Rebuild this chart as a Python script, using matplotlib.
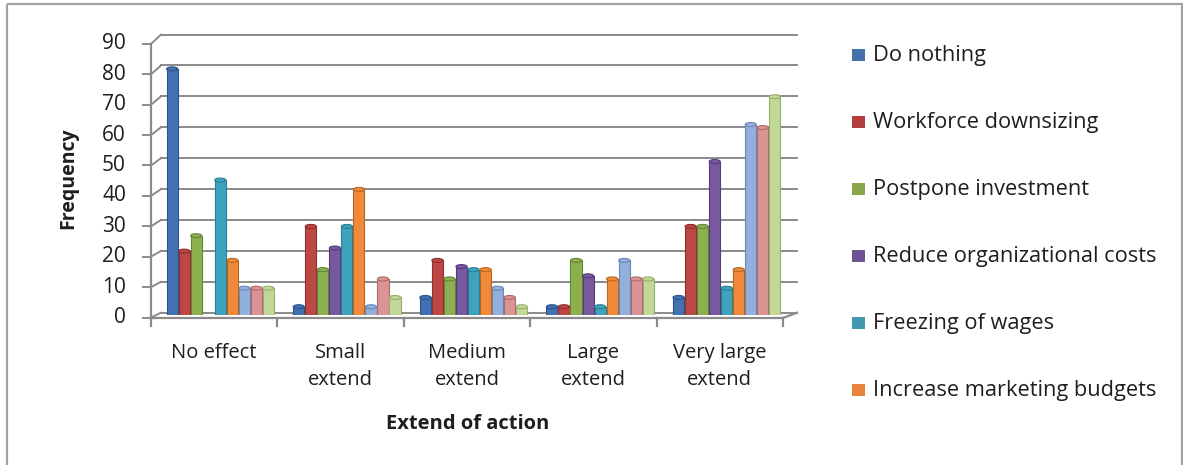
import matplotlib.pyplot as plt
from matplotlib.patches import Ellipse, Rectangle
import numpy as np

plt.rcParams['font.family'] = ['Open Sans', 'DejaVu Sans']

categories = ["No effect", "Small\nextend", "Medium\nextend", "Large\nextend", "Very large\nextend"]

do_nothing = [80, 3, 6, 3, 6]
workforce_downsizing = [21, 29, 18, 3, 29]
postpone_investment = [26, 15, 12, 18, 29]
reduce_org_costs = [0, 22, 16, 13, 50]
freezing_wages = [44, 29, 15, 3, 9]
increase_marketing = [18, 41, 15, 12, 15]
other_a = [9, 3, 9, 18, 62]
other_b = [9, 12, 6, 12, 61]
other_c = [9, 6, 3, 12, 71]

series = [do_nothing, workforce_downsizing, postpone_investment, reduce_org_costs,
          freezing_wages, increase_marketing, other_a, other_b, other_c]
legend_names = ["Do nothing", "Workforce downsizing", "Postpone investment",
                "Reduce organizational costs", "Freezing of wages",
                "Increase marketing budgets"]

face = ["#4272b2", "#bd4745", "#8db04f", "#78599f", "#40a3bd", "#f08a3a",
        "#93afdc", "#da9493", "#c2d899"]
edge = ["#2c5489", "#8e2f2d", "#66843a", "#543c78", "#2b7d92", "#b9651f",
        "#6a87b8", "#b06a69", "#97ad6e"]
legend_face = ["#4472a8", "#b3403e", "#89a64b", "#6f5495", "#4198af", "#e8833c"]

yticks = np.arange(0, 100, 10)

W, H = 1183, 465
fig = plt.figure(figsize=(W / 100, H / 100), dpi=100)

# overlay in pixel coordinates for the frame, walls and labels
frame = fig.add_axes([0, 0, 1, 1])
frame.set_xlim(0, W)
frame.set_ylim(H, 0)
frame.axis("off")


def px(x0, y0, x1, y1):
    return [x0 / W, 1 - y1 / H, (x1 - x0) / W, (y1 - y0) / H]


# bars axes: value 0 at y=315, value 90 at y=37
ax = fig.add_axes(px(157, 37, 790, 315))
ax.set_xlim(-0.5, 4.5)
ax.set_ylim(0, 90)
ax.axis("off")
ax.patch.set_alpha(0)

grid_c = "#8a8a8a"
text_c = "#1e1e1e"


def y_back(v):
    return 312.7 - v * 3.09


def y_front(v):
    return 317.5 - v * 3.04


# chart border
frame.add_patch(Rectangle((7, 4), 1175, 470, fill=False, ec="#a3a3a3", lw=1.6))

# back wall gridlines and side wall diagonals
for v in yticks:
    frame.plot([161, 797], [y_back(v), y_back(v)], color=grid_c, lw=1.4, zorder=1)
    frame.plot([151, 161], [y_front(v), y_back(v)], color=grid_c, lw=1.4, zorder=1)
    frame.plot([143, 151], [y_front(v), y_front(v)], color=grid_c, lw=1.4, zorder=1)
    frame.text(126, y_front(v), f"{v}", ha="right", va="center", fontsize=15, color=text_c)

# front axis and floor
frame.plot([151, 151], [y_front(90), y_front(0) + 1], color=grid_c, lw=1.6, zorder=1)
frame.plot([151, 783, 797], [318, 318, y_back(0)], color=grid_c, lw=1.6, zorder=1)
for i in range(6):
    x = 151 + 126.4 * i
    frame.plot([x, x], [318, 326], color=grid_c, lw=1.6, zorder=1)

# columns with an elliptical cap
n = len(series)
step = 0.095
bw = 0.088
cap_h = 1.3
xs = np.arange(len(categories))
for j, vals in enumerate(series):
    offs = xs + (j - (n - 1) / 2) * step
    for x, v in zip(offs, vals):
        if v <= 0:
            continue
        top = v - cap_h / 4
        ax.bar(x, top, width=bw, color=face[j], edgecolor=edge[j], linewidth=0.8, zorder=2)
        ax.add_patch(Ellipse((x, top), bw, cap_h, fc=face[j], ec=edge[j], lw=0.8, zorder=3))

# category labels
for i, lab in enumerate(categories):
    cx = 151 + 126.4 * (i + 0.5)
    frame.text(cx, 343, lab, ha="center", va="top", fontsize=14.5, color=text_c,
               linespacing=1.45)

frame.text(68, 178, "Frequency", rotation=90, ha="center", va="center",
           fontsize=14, fontweight="bold", color=text_c)
frame.text(468, 424, "Extend of action", ha="center", va="center",
           fontsize=14.5, fontweight="bold", color=text_c)

# legend
for k, name in enumerate(legend_names):
    y = 55 + 67 * k
    frame.add_patch(Rectangle((852, y - 6), 13, 12, fc=legend_face[k], ec="none"))
    frame.text(873, y, name, ha="left", va="center", fontsize=15.7, color=text_c)

fig.savefig("out.png", dpi=100)
